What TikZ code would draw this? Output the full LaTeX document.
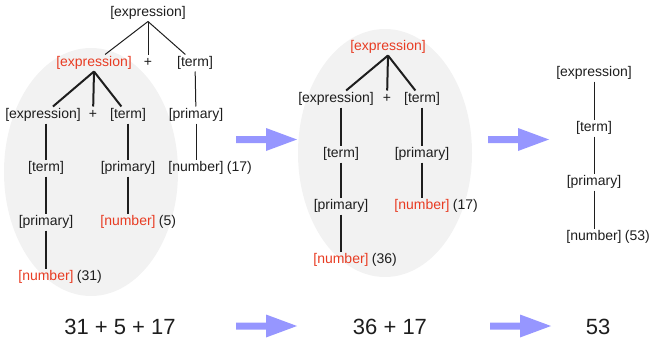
\documentclass[tikz,border=0pt]{standalone}
\usepackage{fontspec}
\setmainfont{Liberation Sans}
\definecolor{ink}{RGB}{30,30,30}
\definecolor{hot}{RGB}{232,60,35}
\definecolor{halo}{RGB}{242,242,242}
\definecolor{flow}{RGB}{150,150,255}
\tikzset{
  lbl/.style={font=\fontsize{14}{16}\selectfont, text=ink, inner sep=0pt,
              text height=10.5pt, text depth=3pt, outer sep=1.75pt},
  hotlbl/.style={lbl, text=hot},
  val/.style={label={[lbl, outer sep=0pt, anchor=west, label distance=1.5pt]east:#1}},
  thinedge/.style={draw=ink, line width=1pt},
  thickedge/.style={draw=ink, line width=2pt},
  sum/.style={font=\fontsize{22}{26}\selectfont, text=ink, inner sep=0pt},
  fatarrow/.pic={\fill[flow] (0,-3.5) -- (30,-3.5) -- (30,-11.5) -- (61,0)
                 -- (30,11.5) -- (30,3.5) -- (0,3.5) -- cycle;}
}
\begin{document}
\begin{tikzpicture}[x=1pt,y=-1pt]
\useasboundingbox (0,0) rectangle (649,340);

% shaded subtrees being reduced
\fill[halo] (91,172) ellipse [x radius=87pt, y radius=124pt];
\fill[halo] (385,153) ellipse [x radius=87pt, y radius=124pt];

% ---- first parse tree ----
\node[lbl]    (r1)  at (148,13)  {[expression]};
\node[hotlbl] (a1)  at (94,63)   {[expression]};
\node[lbl]    (p1)  at (148,63)  {+};
\node[lbl]    (t1)  at (195,63)  {[term]};
\node[lbl]    (b1)  at (43,115)  {[expression]};
\node[lbl]    (p2)  at (93,115)  {+};
\node[lbl]    (t2)  at (128,115) {[term]};
\node[lbl]    (pr1) at (196,115) {[primary]};
\node[lbl]    (t3)  at (46,168)  {[term]};
\node[lbl]    (pr2) at (128,168) {[primary]};
\node[lbl, val=(17)] (n1) at (196,168) {[number]};
\node[lbl]    (pr3) at (46,222)  {[primary]};
\node[hotlbl, val=(5)]  (n2) at (128,222) {[number]};
\node[hotlbl, val=(31)] (n3) at (46,277)  {[number]};

\draw[thinedge] (r1.south) -- (a1);
\draw[thinedge] (r1.south) -- (p1);
\draw[thinedge] (r1.south) -- (t1);
\draw[thickedge] (a1.south) -- (b1);
\draw[thickedge] (a1.south) -- (p2);
\draw[thickedge] (a1.south) -- (t2);
\draw[thickedge] (t3.north |- b1.south) -- (t3);
\draw[thickedge] (t3) -- (pr3);
\draw[thickedge] (pr3) -- (n3);
\draw[thickedge] (t2) -- (pr2);
\draw[thickedge] (pr2) -- (n2);
\draw[thinedge] (t1) -- (pr1);
\draw[thinedge] (pr1) -- (n1);

% ---- second parse tree ----
\node[hotlbl] (r2)  at (388,47)  {[expression]};
\node[lbl]    (b2)  at (336,99)  {[expression]};
\node[lbl]    (p3)  at (387,99)  {+};
\node[lbl]    (t4)  at (422,99)  {[term]};
\node[lbl]    (t5)  at (341,154) {[term]};
\node[lbl]    (pr4) at (422,154) {[primary]};
\node[lbl]    (pr5) at (341,206) {[primary]};
\node[hotlbl, val=(17)] (n4) at (422,206) {[number]};
\node[hotlbl, val=(36)] (n5) at (341,260) {[number]};

\draw[thickedge] (r2.south) -- (b2);
\draw[thickedge] (r2.south) -- (p3);
\draw[thickedge] (r2.south) -- (t4);
\draw[thickedge] (t5.north |- b2.south) -- (t5);
\draw[thickedge] (t5) -- (pr5);
\draw[thickedge] (pr5) -- (n5);
\draw[thickedge] (t4) -- (pr4);
\draw[thickedge] (pr4) -- (n4);

% ---- third parse tree ----
\node[lbl] (r3)  at (594,73)  {[expression]};
\node[lbl] (t6)  at (594,128) {[term]};
\node[lbl] (pr6) at (594,182) {[primary]};
\node[lbl, val=(53)] (n6) at (594,237) {[number]};

\draw[thinedge] (r3) -- (t6);
\draw[thinedge] (t6) -- (pr6);
\draw[thinedge] (pr6) -- (n6);

% ---- reduction arrows ----
\pic at (236,139.5) {fatarrow};
\pic at (488,139.5) {fatarrow};
\pic at (236,326) {fatarrow};
\pic at (490,326) {fatarrow};

% ---- arithmetic row ----
\node[sum] (e1) at (120,327) {31 + 5 + 17};
\node[sum] (e2) at (390,327) {36 + 17};
\node[sum] (e3) at (598,327) {53};
\end{tikzpicture}
\end{document}
